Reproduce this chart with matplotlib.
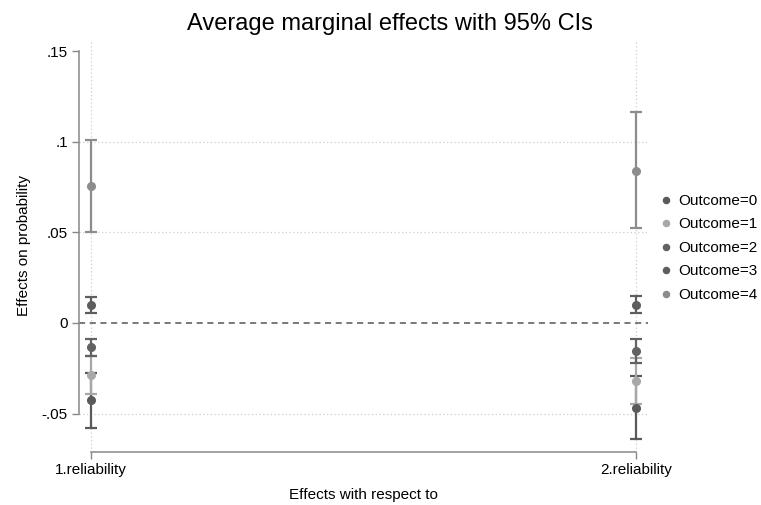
import matplotlib
matplotlib.use("Agg")
import matplotlib.pyplot as plt

plt.rcParams['font.family'] = ['Liberation Sans', 'DejaVu Sans']

# margins results
x_labels = ['1.reliability', '2.reliability']
x_pos = [1, 2]
outcomes = ['Outcome=0', 'Outcome=1', 'Outcome=2', 'Outcome=3', 'Outcome=4']

est_0 = [-0.0426, -0.0467]
lo_0 = [-0.0580, -0.0642]
hi_0 = [-0.0274, -0.0293]

est_1 = [-0.0287, -0.0320]
lo_1 = [-0.0394, -0.0446]
hi_1 = [-0.0180, -0.0194]

est_2 = [-0.0135, -0.0154]
lo_2 = [-0.0180, -0.0219]
hi_2 = [-0.0089, -0.0089]

est_3 = [0.0098, 0.0101]
lo_3 = [0.0055, 0.0055]
hi_3 = [0.0142, 0.0150]

est_4 = [0.0756, 0.0840]
lo_4 = [0.0504, 0.0522]
hi_4 = [0.1009, 0.1162]

colors = ['#5a5a5a', '#a8a8a8', '#626262', '#5e5e5e', '#8c8c8c']

y_ticks = [-0.05, 0, 0.05, 0.1, 0.15]
y_ticklabels = ['-.05', '0', '.05', '.1', '.15']

fig = plt.figure(figsize=(7.61, 5.05), dpi=100)
ax = fig.add_axes([0.1038, 0.105, 0.7477, 0.8158])

# grid first so everything sits on top
for yv in [-0.05, 0.05, 0.1]:
    ax.axhline(yv, color='#cfcfcf', lw=0.9, ls=(0, (1, 2)), zorder=0)
for xv in x_pos:
    ax.axvline(xv, color='#cfcfcf', lw=0.9, ls=(0, (1, 2)), zorder=0)
ax.axhline(0, color='#555555', lw=1.1, ls=(0, (4, 3)), zorder=1)

series = [
    (est_0, lo_0, hi_0),
    (est_1, lo_1, hi_1),
    (est_2, lo_2, hi_2),
    (est_3, lo_3, hi_3),
    (est_4, lo_4, hi_4),
]

for (est, lo, hi), col, name in zip(series, colors, outcomes):
    yerr = [[e - l for e, l in zip(est, lo)], [h - e for e, h in zip(est, hi)]]
    ax.errorbar(x_pos, est, yerr=yerr, fmt='none', ecolor=col,
                elinewidth=1.6, capsize=4, capthick=1.6, zorder=2)
    ax.plot(x_pos, est, 'o', color=col, ms=5.5, zorder=3, label=name)

ax.set_xlim(0.978, 2.022)
ax.set_ylim(-0.0712, 0.1561)

ax.set_xticks(x_pos)
ax.set_xticklabels(x_labels)
ax.set_yticks(y_ticks)
ax.set_yticklabels(y_ticklabels)
ax.tick_params(axis='both', labelsize=11, length=5, width=1, color='#888888', pad=3)

for side in ['top', 'right']:
    ax.spines[side].set_visible(False)
ax.spines['left'].set_bounds(-0.05, 0.15)
ax.spines['bottom'].set_bounds(1, 2)
for side in ['left', 'bottom']:
    ax.spines[side].set_color('#888888')
    ax.spines[side].set_linewidth(1.1)

ax.set_ylabel('Effects on probability', fontsize=11, labelpad=8)
ax.set_xlabel('Effects with respect to', fontsize=11, labelpad=8)
fig.suptitle('Average marginal effects with 95% CIs', fontsize=17,
             x=0.512, y=0.975)

fig.legend(loc='center left', bbox_to_anchor=(0.861, 0.509), frameon=False,
           fontsize=11, handlelength=0.6, handletextpad=0.5,
           labelspacing=0.62, markerscale=0.8, borderaxespad=0)

fig.savefig('out.png', dpi=100)
